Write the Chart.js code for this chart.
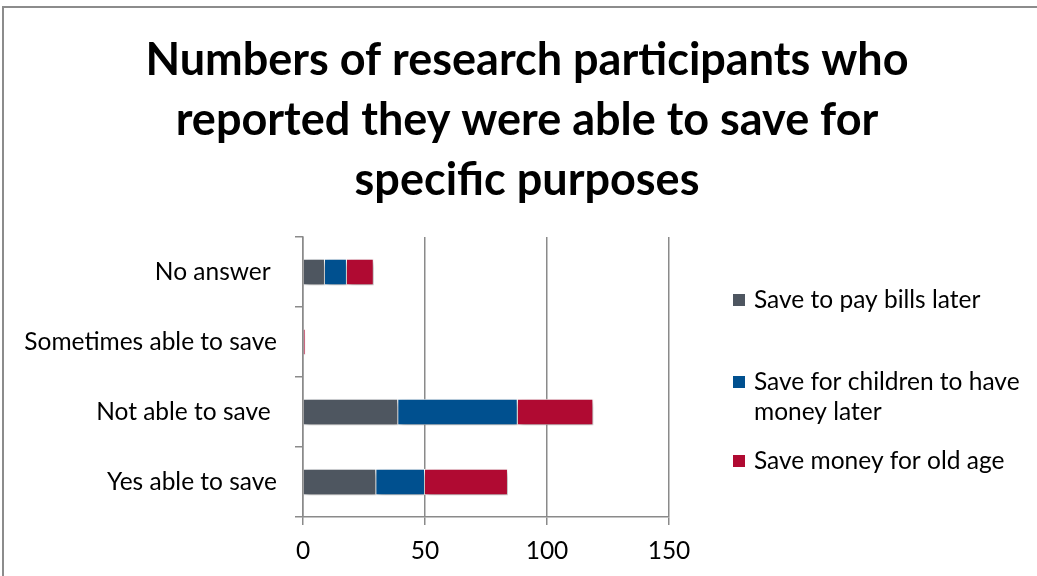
<!DOCTYPE html>
<html>
<head>
<meta charset="utf-8">
<script src="https://cdn.jsdelivr.net/npm/chart.js@4.4.1/dist/chart.umd.min.js"></script>
<style>
  html, body { margin: 0; padding: 0; background: #fff; overflow: hidden; }
  #wrap { position: relative; width: 1037px; height: 576px; overflow: hidden; }
  #frame { position: absolute; left: 2px; top: 6px; width: 1100px; height: 700px; border: 2px solid #8c8c8c; box-sizing: border-box; }
  #c { position: absolute; left: 0; top: 0; }
</style>
</head>
<body>
<div id="wrap">
  <div id="frame"></div>
  <canvas id="c" width="1037" height="576"></canvas>
</div>
<script>
const titleLines = ['Numbers of research participants who', 'reported they were able to save for', 'specific purposes'];
const categories = ['No answer ', 'Sometimes able to save', 'Not able to save ', 'Yes able to save'];
const seriesNames = ['Save to pay bills later', 'Save for children to have money later', 'Save money for old age'];
const billsLater = [9, 0, 39, 30];
const childrenLater = [9, 0, 49, 20];
const oldAge = [11, 1, 31, 34];
const xTicks = [0, 50, 100, 150];
const seriesColors = ['#4e5660', '#00508f', '#b00a32'];

const FONT = 'Lato';
const LABEL_SIZE = 24.5;

const shadowPlugin = {
  id: 'barShadow',
  beforeDatasetsDraw(chart) {
    const ctx = chart.ctx;
    ctx.save();
    ctx.shadowColor = 'rgba(0,0,0,0.35)';
    ctx.shadowBlur = 6;
    ctx.shadowOffsetX = 2;
    ctx.shadowOffsetY = 3;
  },
  afterDatasetsDraw(chart) {
    chart.ctx.restore();
  }
};

const titlePlugin = {
  id: 'fullWidthTitle',
  afterDraw(chart) {
    const ctx = chart.ctx;
    ctx.save();
    ctx.font = 'bold 45px ' + FONT;
    ctx.fillStyle = '#000';
    ctx.textAlign = 'center';
    ctx.textBaseline = 'middle';
    titleLines.forEach((t, i) => ctx.fillText(t, 527, 60 + i * 60));
    ctx.restore();
  }
};

const sideLegend = {
  id: 'sideLegend',
  afterDraw(chart) {
    const ctx = chart.ctx;
    const x = 733, textX = 754, maxW = 278, lineH = 30;
    const itemY = [300, 382, 461];
    ctx.save();
    ctx.font = LABEL_SIZE + 'px ' + FONT;
    ctx.textBaseline = 'middle';
    ctx.textAlign = 'left';
    chart.data.datasets.forEach((ds, i) => {
      const words = ds.label.split(' ');
      const lines = [];
      let cur = '';
      words.forEach(w => {
        const t = cur ? cur + ' ' + w : w;
        if (ctx.measureText(t).width > maxW && cur) { lines.push(cur); cur = w; } else { cur = t; }
      });
      if (cur) lines.push(cur);
      const y = itemY[i];
      ctx.fillStyle = ds.backgroundColor;
      ctx.fillRect(x, y - 6, 12, 12);
      ctx.fillStyle = '#000';
      lines.forEach((ln, k) => ctx.fillText(ln, textX, y + k * lineH));
    });
    ctx.restore();
  }
};

const values = [billsLater, childrenLater, oldAge];

new Chart(document.getElementById('c'), {
  type: 'bar',
  data: {
    labels: categories,
    datasets: seriesNames.map((name, i) => ({
      label: name,
      data: values[i],
      backgroundColor: seriesColors[i],
      borderColor: '#ffffff',
      borderWidth: 1,
      categoryPercentage: 0.5,
      barPercentage: 0.76
    }))
  },
  options: {
    indexAxis: 'y',
    responsive: false,
    animation: false,
    layout: { padding: { left: 0, right: 368, top: 237, bottom: 0 } },
    plugins: {
      legend: { display: false },
      tooltip: { enabled: false },
      title: { display: false }
    },
    scales: {
      x: {
        stacked: true,
        min: 0, max: 150,
        afterBuildTicks(scale) { scale.ticks = xTicks.map(v => ({ value: v })); },
        afterFit(scale) { scale.height = 59; },
        ticks: { color: '#000', font: { family: FONT, size: LABEL_SIZE }, padding: 11, maxRotation: 0 },
        grid: { color: '#8a8a8a', lineWidth: 1.5, tickLength: 8, drawTicks: true },
        border: { color: '#8a8a8a', width: 1.5 }
      },
      y: {
        stacked: true,
        afterFit(scale) { scale.width = 303; },
        ticks: { color: '#000', font: { family: FONT, size: LABEL_SIZE }, padding: 18 },
        grid: { drawOnChartArea: false, drawTicks: true, tickLength: 8, color: '#8a8a8a', lineWidth: 1.5, offset: true },
        border: { color: '#8a8a8a', width: 1.5 }
      }
    }
  },
  plugins: [shadowPlugin, titlePlugin, sideLegend]
});
</script>
</body>
</html>
